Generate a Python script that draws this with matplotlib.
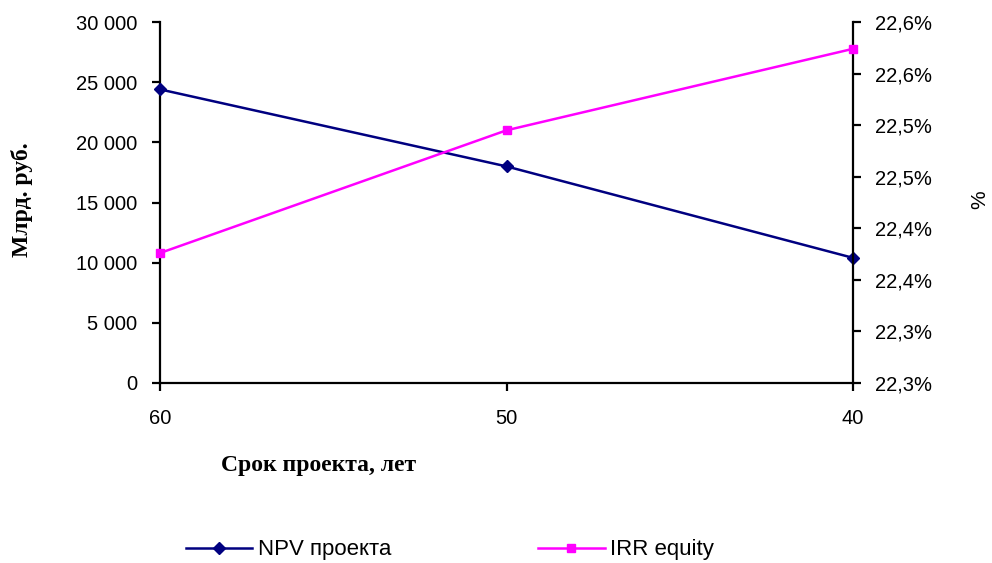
import matplotlib
matplotlib.use("Agg")
import matplotlib.pyplot as plt
from matplotlib.ticker import FuncFormatter
from decimal import Decimal, ROUND_HALF_UP

# project term (years) and the two indicators
terms = ["60", "50", "40"]
npv = [24400, 18000, 10400]          # млрд. руб.
irr = [22.376, 22.495, 22.574]       # %

left_ticks = [0, 5000, 10000, 15000, 20000, 25000, 30000]
right_ticks = [22.25, 22.30, 22.35, 22.40, 22.45, 22.50, 22.55, 22.60]

sans = "Liberation Sans"
serif = "Liberation Serif"
plt.rcParams["font.family"] = sans


def thousands(v, pos):
    return f"{int(round(v)):,}".replace(",", " ")


def pct(v, pos):
    d = Decimal(str(round(v, 3))).quantize(Decimal("0.1"), rounding=ROUND_HALF_UP)
    return f"{d}%".replace(".", ",")


fig = plt.figure(figsize=(9.92, 5.63), dpi=100)
ax = fig.add_axes([160 / 992, 1 - 383 / 563, 693 / 992, 361 / 563])
ax2 = ax.twinx()

x = range(len(terms))
l1, = ax.plot(x, npv, color="#000080", lw=1.8, marker="D", ms=6.5,
              label="NPV проекта", clip_on=False, zorder=5)
l2, = ax2.plot(x, irr, color="#FF00FF", lw=1.8, marker="s", ms=6,
               label="IRR equity", clip_on=False, zorder=5)

ax.set_xlim(0, 2)
ax.set_ylim(0, 30000)
ax2.set_ylim(22.25, 22.60)
ax.set_xticks(list(x))
ax.set_xticklabels(terms)
ax.set_yticks(left_ticks)
ax2.set_yticks(right_ticks)
ax.yaxis.set_major_formatter(FuncFormatter(thousands))
ax2.yaxis.set_major_formatter(FuncFormatter(pct))

for a in (ax, ax2):
    a.spines["top"].set_visible(False)
    for s in a.spines.values():
        s.set_linewidth(1.6)
ax.spines["right"].set_visible(False)
ax2.spines["left"].set_visible(False)
ax2.spines["bottom"].set_visible(False)

ax.tick_params(axis="both", direction="out", length=6, width=1.6, labelsize=14.5)
ax.tick_params(axis="x", pad=13)
ax.tick_params(axis="y", pad=10.5)
ax2.tick_params(axis="y", direction="out", length=6, width=1.6, labelsize=14.5, pad=10)

fig.text(22 / 992, 1 - 200 / 563, "Млрд. руб.", rotation=90, ha="center", va="center",
         family=serif, fontweight="bold", fontsize=17)
fig.text(319 / 992, 1 - 465 / 563, "Срок проекта, лет", ha="center", va="center",
         family=serif, fontweight="bold", fontsize=17)
fig.text(980 / 992, 1 - 200 / 563, "%", rotation=90, ha="center", va="center", fontsize=15)

fig.legend(handles=[l1, l2], loc="center", bbox_to_anchor=(450 / 992, 1 - 550 / 563),
           ncol=2, frameon=False, fontsize=16, handlelength=3.0, handletextpad=0.25,
           columnspacing=6.6)

fig.savefig("out.png", dpi=100)
